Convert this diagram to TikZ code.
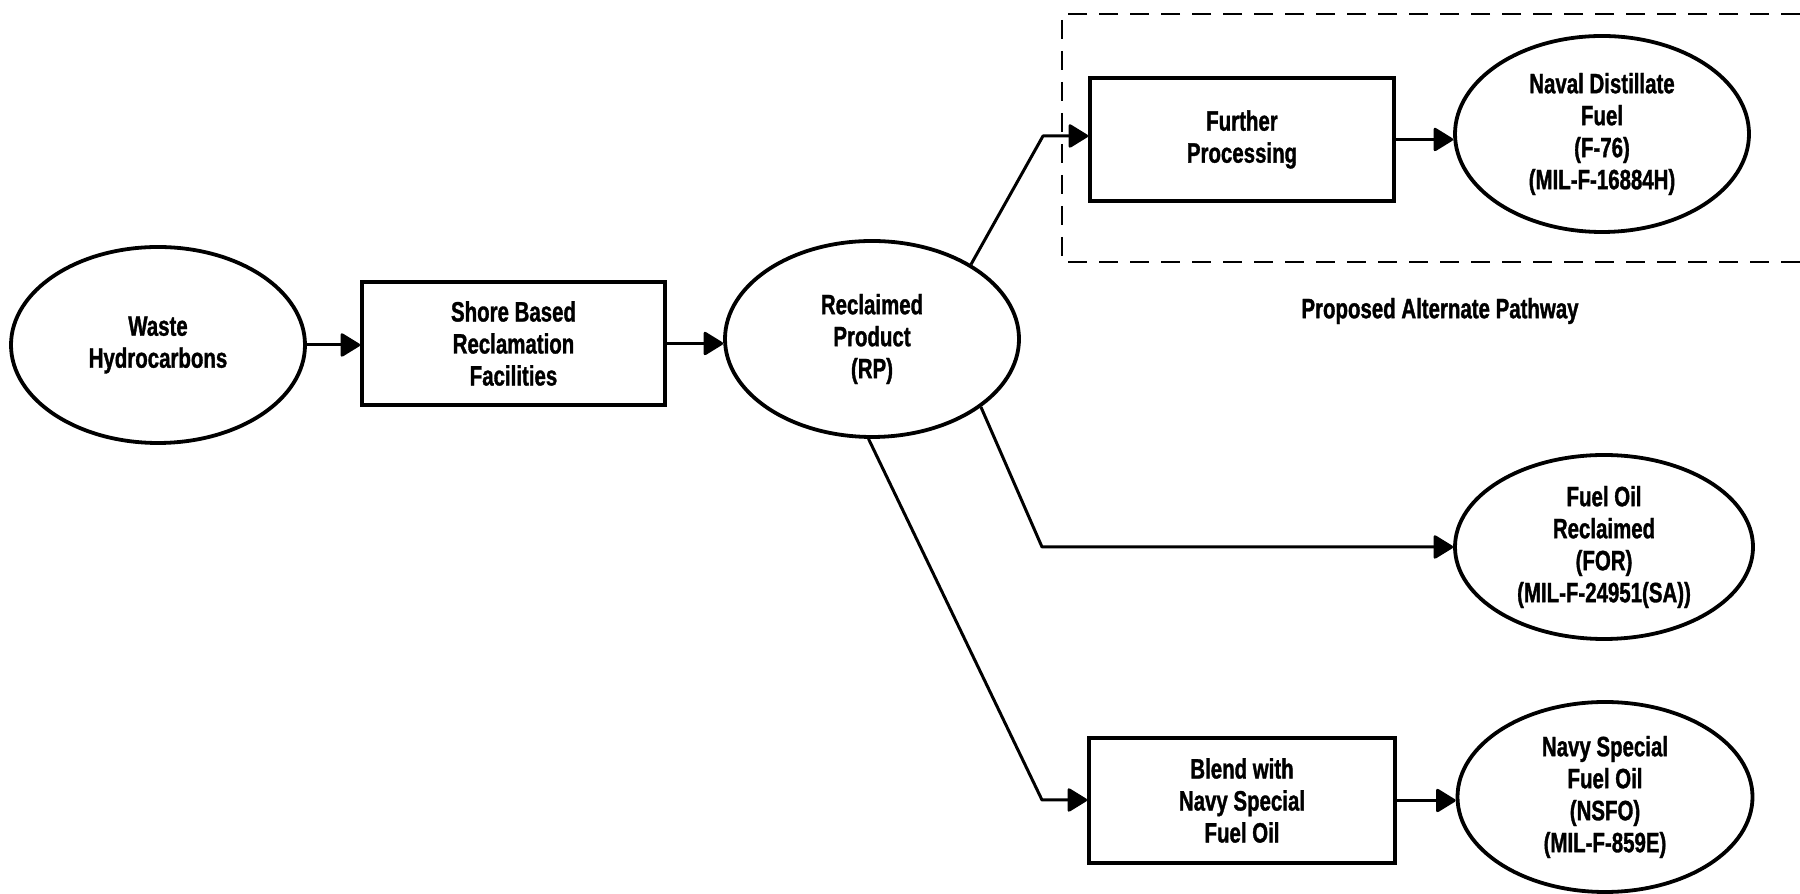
\documentclass[tikz,border=0pt]{standalone}
\usepackage{fontspec}
\setmainfont{Liberation Sans}[FakeStretch=0.73, BoldFeatures={FakeBold=1.2}]
\usetikzlibrary{arrows.meta,shapes.geometric}
\begin{document}
\begin{tikzpicture}[x=1pt,y=1pt,
  lbl/.style={font=\fontsize{28}{32}\selectfont\bfseries, align=center},
  oval/.style={lbl, draw, line width=3.8pt, ellipse, inner sep=0pt, minimum width=294pt, minimum height=196pt},
  stepbox/.style={lbl, draw, line width=3.8pt, rectangle, inner sep=0pt, minimum width=304pt, minimum height=124pt},
  arr/.style={line width=3pt, line join=round, -{Triangle[length=21pt,width=25pt,round]}},
  dashbox/.style={line width=2.5pt, dash pattern=on 19pt off 12pt}
]
\useasboundingbox (0,0) rectangle (1800,894);

% nodes
\node[oval] (waste) at (158,549) {Waste\\Hydrocarbons};
\node[stepbox, minimum width=303pt, minimum height=123pt] (shore) at (513.5,550.5) {Shore Based\\Reclamation\\Facilities};
\node[oval] (rp) at (872,555) {Reclaimed\\Product\\(RP)};
\node[stepbox, minimum height=123pt] (further) at (1242,754.5) {Further\\Processing};
\node[oval] (naval) at (1602,760) {Naval Distillate\\Fuel\\(F-76)\\(MIL-F-16884H)};
\node[oval, minimum width=298pt, minimum height=184pt] (forr) at (1604,347) {Fuel Oil\\Reclaimed\\(FOR)\\(MIL-F-24951(SA))};
\node[stepbox, minimum width=306pt, minimum height=125pt] (blend) at (1242,93.5) {Blend with\\Navy Special\\Fuel Oil};
\node[oval, minimum width=295pt, minimum height=190pt] (nsfo) at (1605,97) {Navy Special\\Fuel Oil\\(NSFO)\\(MIL-F-859E)};
\node[lbl] (prop) at (1440,583) {Proposed Alternate Pathway};

% dashed region
\coordinate (dtr) at (1800,880);
\coordinate (dtl) at (1062,880);
\coordinate (dbl) at (1062,632);
\coordinate (dbr) at (1800,632);
\draw[dashbox] (dtr) -- (dtl) -- (dbl) -- (dbr);

% bend points
\coordinate (b1) at (1043,758);
\coordinate (b2) at (1042,347);
\coordinate (b3) at (1042,94);

% connectors
\draw[arr] (waste.east) -- (waste.east -| shore.west);
\draw[arr] (shore.east) -- (shore.east -| rp.west);
\draw[arr] (rp.37) -- (b1) -- (b1 -| further.west);
\draw[arr] (rp.-32) -- (b2) -- (forr.west);
\draw[arr] (rp.-92) -- (b3) -- (b3 -| blend.west);
\draw[arr] (further.east) -- (further.east -| naval.west);
\draw[arr] (blend.east) -- (blend.east -| nsfo.west);
\end{tikzpicture}
\end{document}
